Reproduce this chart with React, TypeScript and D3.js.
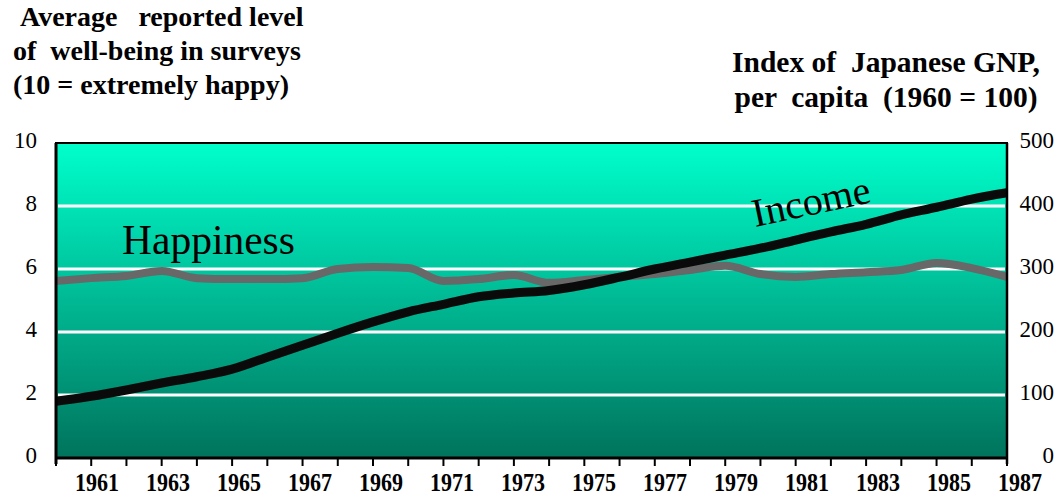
import React from "react";
import * as d3 from "d3";

const years = [1960,1961,1962,1963,1964,1965,1966,1967,1968,1969,1970,1971,1972,1973,1974,1975,1976,1977,1978,1979,1980,1981,1982,1983,1984,1985,1986,1987];
const happiness = [5.62,5.71,5.78,5.94,5.71,5.68,5.68,5.71,6.0,6.06,6.03,5.62,5.68,5.81,5.56,5.65,5.75,5.84,5.97,6.1,5.84,5.75,5.84,5.9,5.97,6.19,6.03,5.75];
const income = [90,98,108,119,129,141,160,179,198,216,232,244,256,262,266,275,287,300,311,322,333,346,359,371,386,398,411,421];
const leftTicks = [0,2,4,6,8,10];
const rightTicks = [0,100,200,300,400,500];
const gridValues = [2,4,6,8];
const xLabelYears = [1961,1963,1965,1967,1969,1971,1973,1975,1977,1979,1981,1983,1985,1987];
const leftTitle = ["Average   reported level", "of  well-being in surveys", "(10 = extremely happy)"];
const rightTitle = ["Index of  Japanese GNP,", "per  capita  (1960 = 100)"];

const W = 1058, H = 498;
const L = 56, R = 1007, T = 143, B = 458;
const serif = "Liberation Serif, Times New Roman, Times, DejaVu Serif, serif";

export default function App() {
  const x = d3.scaleLinear().domain([1960, 1987]).range([L, R]);
  const xLab = d3.scaleLinear().domain([1961, 1987]).range([97, 1020]);
  const yL = d3.scaleLinear().domain([0, 10]).range([B, T]);
  const yR = d3.scaleLinear().domain([0, 500]).range([B, T]);
  const happyLine = d3.line<number>().x((_, i) => x(years[i])).y(d => yL(d)).curve(d3.curveMonotoneX)(happiness) || "";
  const incomeLine = d3.line<number>().x((_, i) => x(years[i])).y(d => yR(d)).curve(d3.curveMonotoneX)(income) || "";
  const ts = { fontFamily: serif, whiteSpace: "pre" as const };
  return (
    <svg width={W} height={H} style={{ position: "absolute", left: 0, top: 0, background: "#fff", fontFamily: serif }}>
      <defs>
        <linearGradient id="bg" x1="0" y1="0" x2="0" y2="1">
          <stop offset="0" stopColor="#00FFCC" />
          <stop offset="1" stopColor="#00735C" />
        </linearGradient>
      </defs>
      <rect x={L} y={T} width={R - L} height={B - T} fill="url(#bg)" />
      {gridValues.map(v => (
        <line key={v} x1={L + 2} x2={R - 2} y1={yL(v)} y2={yL(v)} stroke="#fff" strokeWidth={3} />
      ))}
      <path d={happyLine} fill="none" stroke="#686868" strokeWidth={8} strokeLinejoin="round" />
      <path d={incomeLine} fill="none" stroke="#0a0a0a" strokeWidth={9} strokeLinejoin="round" />
      <rect x={L} y={T} width={R - L} height={B - T} fill="none" stroke="#000" strokeWidth={2} />
      <line x1={L} x2={L} y1={T} y2={B + 6} stroke="#000" strokeWidth={3} />
      <line x1={L} x2={R} y1={B} y2={B} stroke="#000" strokeWidth={3} />
      <line x1={R} x2={R} y1={T} y2={B + 6} stroke="#000" strokeWidth={2.5} />
      {years.map(yr => (
        <line key={yr} x1={x(yr)} x2={x(yr)} y1={B} y2={B + 8} stroke="#000" strokeWidth={2} />
      ))}
      {xLabelYears.map(yr => (
        <text key={yr} style={ts} transform={`translate(${xLab(yr)},${491}) scale(0.88,1)`} textAnchor="middle" fontSize={25} fontWeight="bold">{yr}</text>
      ))}
      {leftTicks.map(v => (
        <text key={v} style={ts} x={37} y={yL(v) - 3} dy="0.35em" textAnchor="end" fontSize={23}>{v}</text>
      ))}
      {rightTicks.map(v => (
        <text key={v} style={ts} x={1054} y={yR(v) - 3} dy="0.35em" textAnchor="end" fontSize={23}>{v}</text>
      ))}
      {leftTitle.map((t, i) => (
        <text key={"l" + i} style={ts} fontWeight="bold" fontSize={28} x={i === 0 ? 20 : 13} y={26 + i * 34}>{t}</text>
      ))}
      {rightTitle.map((t, i) => (
        <text key={"r" + i} style={ts} fontWeight="bold" fontSize={29.5} x={886} y={72 + i * 35} textAnchor="middle">{t}</text>
      ))}
      <text style={ts} x={122} y={254} fontSize={41.5}>Happiness</text>
      <text style={ts} transform="translate(755,227) rotate(-12)" fontSize={40}>Income</text>
    </svg>
  );
}
